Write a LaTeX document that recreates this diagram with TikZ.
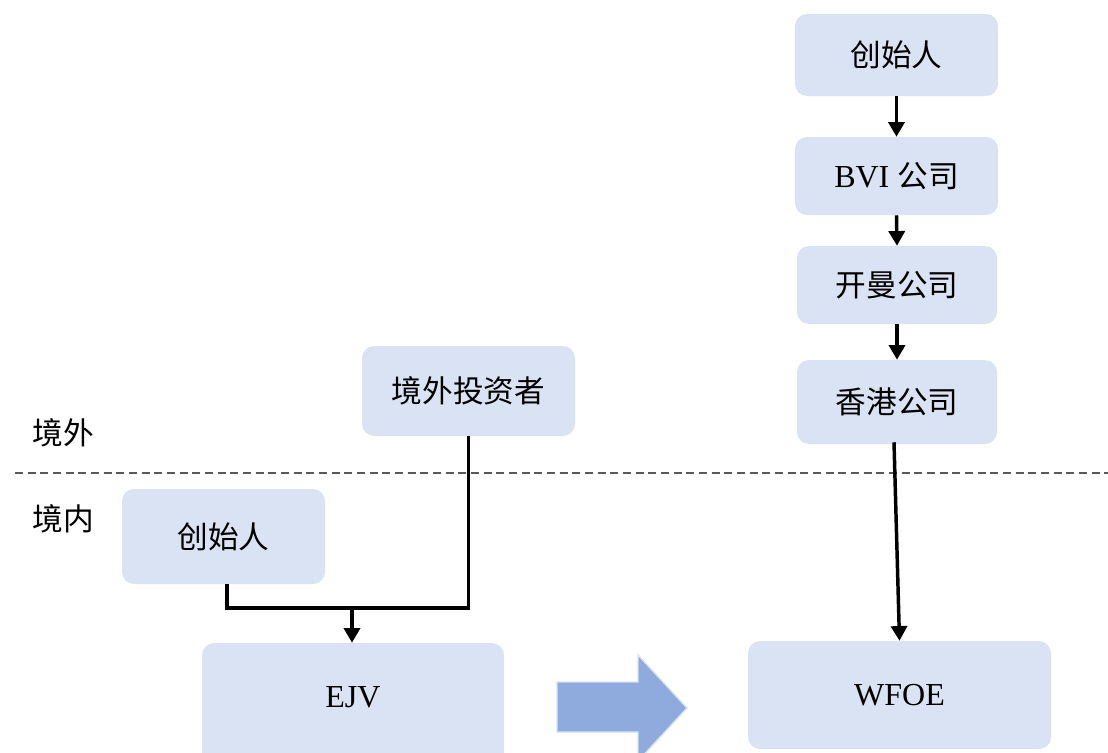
\documentclass[tikz,border=0pt]{standalone}
\usepackage{fontspec}
\setmainfont{Liberation Serif}
\newfontfamily\cjk[Scale=1.0]{Noto Sans CJK SC}
\usetikzlibrary{arrows.meta}
\definecolor{boxfill}{HTML}{DAE3F3}
\definecolor{bigarrow}{HTML}{8FAADC}
\newcommand{\cjkf}{\fontsize{23}{27}\selectfont\cjk}
\tikzset{
  box/.style={fill=boxfill, rounded corners=9pt, inner sep=0pt, font=\fontsize{24}{28}\selectfont},
  conn/.style={line width=2.6pt, -{Triangle[length=11pt,width=12pt]}},
  plain/.style={line width=2.6pt},
  region/.style={font=\cjkf, anchor=west}
}
\begin{document}
\begin{tikzpicture}[x=0.75pt,y=-0.75pt]
\useasboundingbox (0,0) rectangle (1108,753);
% boxes
\node[box, minimum width=152.25pt, minimum height=61.5pt] (f1) at (896.5,55) {\cjkf 创始人};
\node[box, minimum width=152.25pt, minimum height=58.5pt] (bvi) at (896.5,176) {BVI {\cjkf 公司}};
\node[box, minimum width=150pt, minimum height=58.5pt] (ky) at (897,285) {\cjkf 开曼公司};
\node[box, minimum width=150pt, minimum height=63pt] (hk) at (897,402) {\cjkf 香港公司};
\node[box, minimum width=159.75pt, minimum height=67.5pt] (inv) at (468.5,391) {\cjkf 境外投资者};
\node[box, minimum width=152.25pt, minimum height=71.25pt] (f2) at (223.5,536.5) {\cjkf 创始人};
\node[box, minimum width=226.5pt, minimum height=93pt, label={[font=\fontsize{24}{28}\selectfont, yshift=6pt]center:EJV}] (ejv) at (353,705) {};
\node[box, minimum width=227.25pt, minimum height=81pt] (wfoe) at (899.5,695) {WFOE};
% region labels and divider
\node[region] (out) at (28,433) {境外};
\node[region] (in) at (28,519) {境内};
\coordinate (dl) at (15,473);
\coordinate (dr) at (1108,473);
\draw[dashed, line width=1pt, color=black!65, dash pattern=on 6pt off 3.5pt] (dl) -- (dr);
% vertical chain
\draw[conn] (f1.south) -- (bvi.north);
\draw[conn] (bvi.south) -- (ky.north);
\draw[conn] (ky.south) -- (hk.north);
\draw[conn] ([xshift=-2.25pt,yshift=1.5pt]hk.south) -- ([xshift=0pt]wfoe.north);
% merge into EJV
\coordinate (j) at (352,608);
\draw[plain] ([xshift=2.6pt]f2.south) |- (j) -| (inv.south);
\draw[conn] (j) -- (ejv.north -| j);
% big arrow
\draw[fill=bigarrow, draw=boxfill, line width=1pt]
  (557,682) -- (638,682) -- (638,655) -- (687,708) -- (638,761) -- (638,732) -- (557,732) -- cycle;
\end{tikzpicture}
\end{document}
